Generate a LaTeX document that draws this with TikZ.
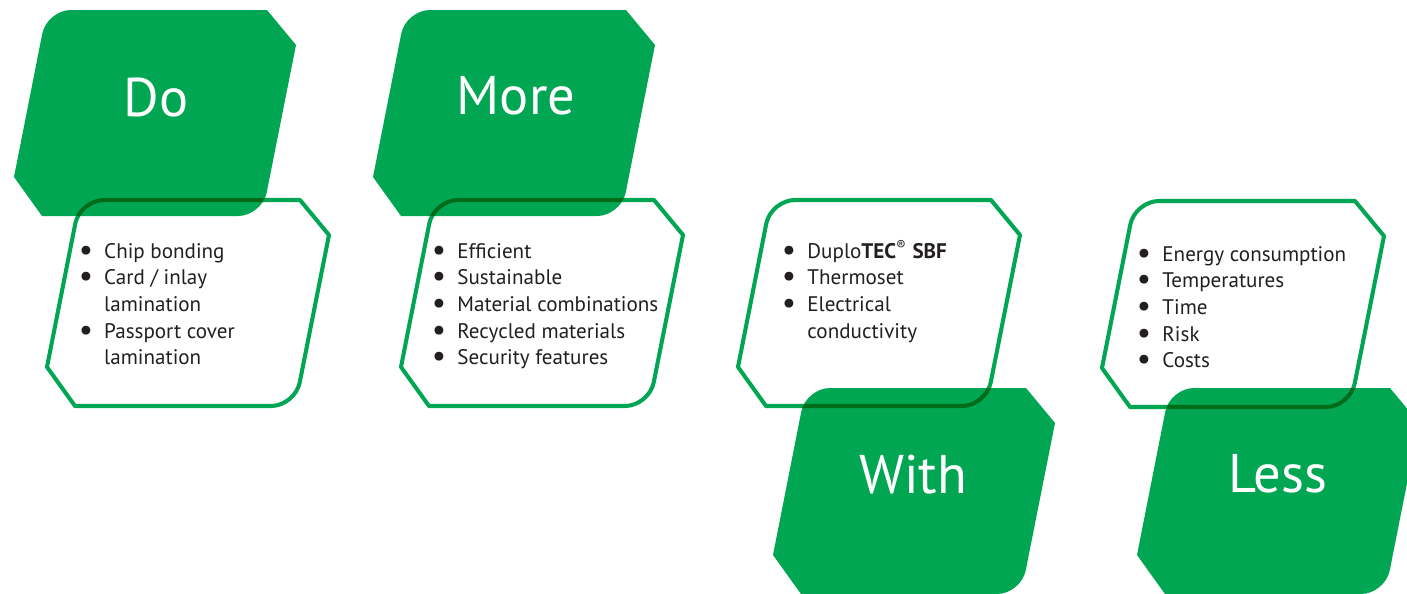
\documentclass[tikz,border=0pt]{standalone}
\usepackage{fontspec}
\setmainfont{PT Sans}
\usepackage{xcolor}
\definecolor{tagGreen}{HTML}{00A651}
\definecolor{tagText}{HTML}{231F20}
\newcommand{\bul}{\makebox[12pt][l]{\hspace{-2.5pt}\smash{\raisebox{-0.1em}{\scalebox{1.5}{\textbullet}}}}}
\tikzset{
tag/.pic={
    \path[pic actions] (-4.7,23.5) .. controls (-2.1,10.6) and (10.8,0) .. (24,0)
        -- (220,0) -- (249,35) -- (219.7,182.5)
        .. controls (217.1,195.4) and (204.2,206) .. (191,206)
        -- (-5,206) -- (-33,167) -- cycle;
},
tagfill/.style = {fill=tagGreen, blend mode=multiply},
tagline/.style = {draw=tagGreen, line width=2.3pt, line join=round, blend mode=multiply},
title/.style = {text=white, font=\fontsize{31}{31}\selectfont, inner sep=0pt, anchor=base},
items/.style = {text=tagText, font=\fontsize{12}{15.2}\selectfont, inner sep=0pt, anchor=base west},
}

\begin{document}
\begin{tikzpicture}[x=0.02cm, y=-0.02cm]
		\useasboundingbox (0,0) rectangle (1407,593);
		\clip (0,0) rectangle (1407,593);
		% shapes
		\pic[tagfill] at (47,10) {tag};
		\pic[tagline] at (80,200) {tag};
		\pic[tagfill] at (406,10) {tag};
		\pic[tagline] at (434,200) {tag};
		\pic[tagline] at (771,200) {tag};
		\pic[tagfill] at (806,388) {tag};
		\pic[tagline] at (1135,201) {tag};
		\pic[tagfill] at (1170,388) {tag};
		% titles
		\node[title] (do) at (156,116) {Do};
		\node[title] (more) at (516,114) {More};
		\node[title] (with) at (913,493) {With};
		\node[title] (less) at (1278,492) {Less};
		% lists
		\node[items] (dolist) at (82.8,258) {\begin{tabular}[t]{@{}l@{}l@{}}
			\bul & Chip bonding\\
			\bul & Card / inlay\\
			     & lamination\\
			\bul & Passport cover\\
			     & lamination
		\end{tabular}};
		\node[items] (morelist) at (436,258) {\begin{tabular}[t]{@{}l@{}l@{}}
			\bul & Efficient\\
			\bul & Sustainable\\
			\bul & Material combinations\\
			\bul & Recycled materials\\
			\bul & Security features
		\end{tabular}};
		\node[items] (withlist) at (786,258) {\begin{tabular}[t]{@{}l@{}l@{}}
			\bul & Duplo\textbf{TEC}\textsuperscript{®} \textbf{SBF}\\
			\bul & Thermoset\\
			\bul & Electrical\\
			     & conductivity
		\end{tabular}};
		\node[items] (lesslist) at (1141,261) {\begin{tabular}[t]{@{}l@{}l@{}}
			\bul & Energy consumption\\
			\bul & Temperatures\\
			\bul & Time\\
			\bul & Risk\\
			\bul & Costs
		\end{tabular}};
	\end{tikzpicture}
\end{document}
